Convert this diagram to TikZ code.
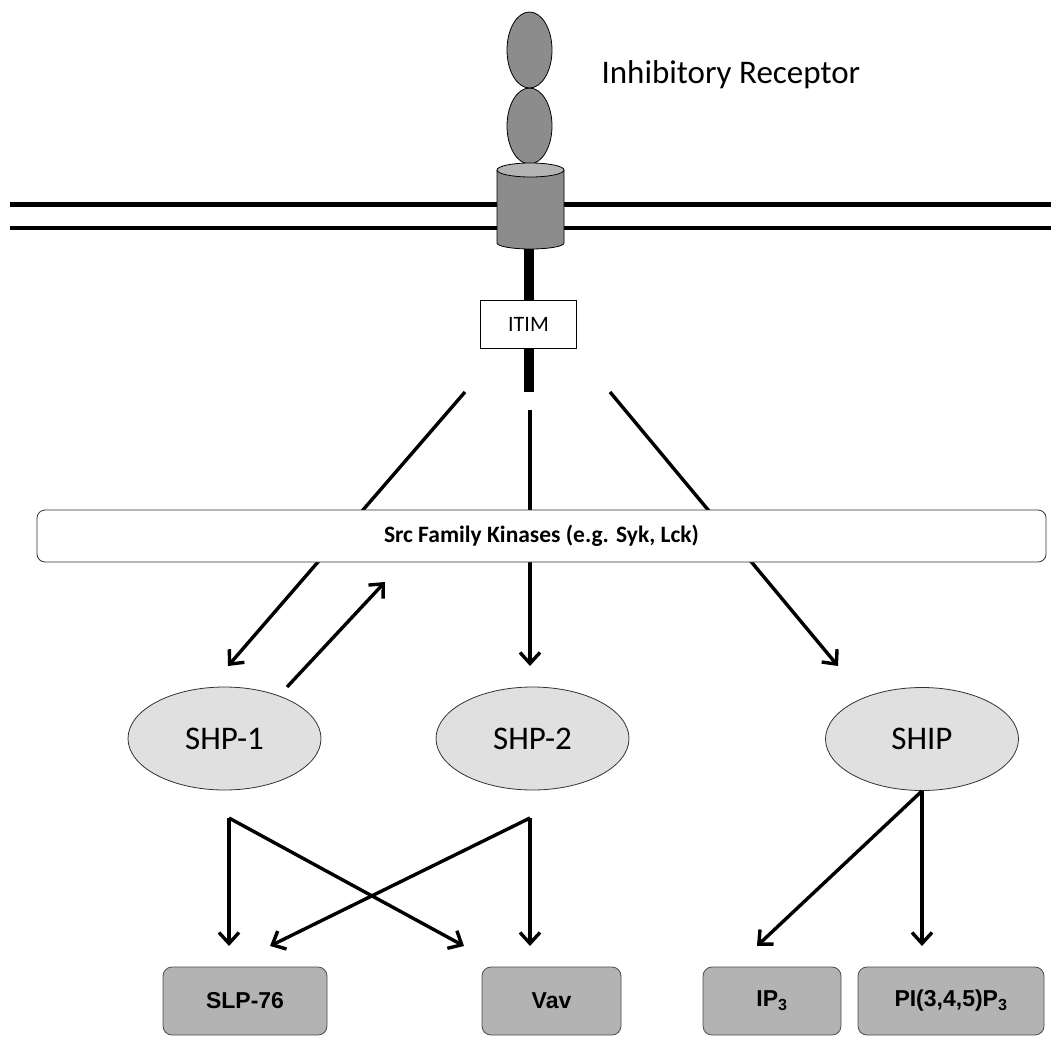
\documentclass[tikz,border=0pt]{standalone}
\usepackage{fontspec}
\setmainfont{Carlito}
\newfontfamily\boxfont{Liberation Sans}
\usetikzlibrary{shapes.geometric,arrows.meta}

\definecolor{recgray}{HTML}{8C8C8C}
\definecolor{rectop}{HTML}{B4B4B4}
\definecolor{shpgray}{HTML}{E0E0E0}
\definecolor{boxgray}{HTML}{B3B3B3}

\begin{document}
\begin{tikzpicture}[x=1pt, y=-1pt,
  arr/.style={line width=3.4pt, -{Straight Barb[length=11pt,width=20pt,line width=3.4pt]}},
  phos/.style={ellipse, draw=black!80, line width=0.8pt, fill=shpgray, inner sep=0pt,
    minimum width=193pt, minimum height=103pt, font=\fontsize{33}{38}\selectfont},
  target/.style={rectangle, rounded corners=9pt, draw=black!70, line width=0.8pt, fill=boxgray,
    minimum height=68pt, inner sep=0pt, font=\boxfont\bfseries\fontsize{23}{27}\selectfont}]
  \useasboundingbox (0,0) rectangle (1051,1036);

  % membrane
  \coordinate (memAL) at (10,204);  \coordinate (memAR) at (1051,204);
  \coordinate (memBL) at (10,228);  \coordinate (memBR) at (1051,228);
  \draw[line width=5pt] (memAL) -- (memAR);
  \draw[line width=4pt] (memBL) -- (memBR);

  % receptor
  \draw[fill=recgray, line width=0.8pt] (529.5,126) ellipse [x radius=22.5, y radius=38];
  \draw[fill=recgray, line width=0.8pt] (529.5,50) ellipse [x radius=22.5, y radius=38];
  \draw[fill=recgray, line width=0.8pt] (497,170) -- (497,243)
    arc [start angle=180, end angle=360, x radius=33.5, y radius=-6] -- (564,170);
  \draw[fill=rectop, line width=0.8pt] (530.5,170) ellipse [x radius=33.5, y radius=7];
  \node[anchor=west, font=\fontsize{33}{38}\selectfont] (rec) at (598,75) {Inhibitory Receptor};

  % tail with ITIM
  \coordinate (tailtop) at (528.5,249);
  \coordinate (tailend) at (528.5,392);
  \node[draw, line width=0.8pt, fill=white, minimum width=96pt, minimum height=48pt,
    inner sep=0pt, font=\fontsize{22}{26}\selectfont] (itim) at (528.5,324) {ITIM};
  \draw[line width=10pt] (tailtop) -- (itim.north);
  \draw[line width=10pt] (itim.south) -- (tailend);

  % kinases
  \coordinate (l0) at (465,392);  \coordinate (l1) at (228,666);
  \coordinate (m0) at (530,410);  \coordinate (m1) at (530,666);
  \coordinate (r0) at (610,392);  \coordinate (r1) at (838,666);
  \draw[arr] (l0) -- (l1);
  \draw[arr] (m0) -- (m1);
  \draw[arr] (r0) -- (r1);
  \node[rectangle, rounded corners=8pt, draw=black!80, line width=0.8pt, fill=white,
    minimum width=1009pt, minimum height=52pt, inner sep=0pt,
    font=\bfseries\fontsize{23.5}{27}\selectfont] (src) at (541.5,536) {Src Family Kinases (e.g. Syk, Lck)};

  % phosphatases
  \node[phos] (shp1) at (224.5,738.5) {SHP-1};
  \node[phos] (shp2) at (532.5,738.5) {SHP-2};
  \node[phos] (ship) at (922,739) {SHIP};
  \coordinate (u0) at (287,687);  \coordinate (u1) at (385,582);
  \draw[arr] (u0) -- (u1);

  % targets
  \node[target, minimum width=164pt] (slp) at (245,1001) {SLP-76};
  \node[target, minimum width=139pt] (vav) at (551.5,1001) {Vav};
  \node[target, minimum width=138pt] (ip3) at (772,1001) {IP\textsubscript{3}};
  \node[target, minimum width=186pt] (pip3) at (951,1001) {PI(3,4,5)P\textsubscript{3}};

  \coordinate (a0) at (229,818);  \coordinate (a1) at (229,946);  \coordinate (a2) at (464,946);
  \coordinate (b0) at (530,818);  \coordinate (b1) at (270,946);  \coordinate (b2) at (530,946);
  \coordinate (c1) at (757,946);  \coordinate (c2) at (922,946);
  \draw[arr] (a0) -- (a1);
  \draw[arr] (a0) -- (a2);
  \draw[arr] (b0) -- (b1);
  \draw[arr] (b0) -- (b2);
  \draw[arr] (ship.south) -- (c1);
  \draw[arr] (ship.south) -- (c2);
\end{tikzpicture}
\end{document}
